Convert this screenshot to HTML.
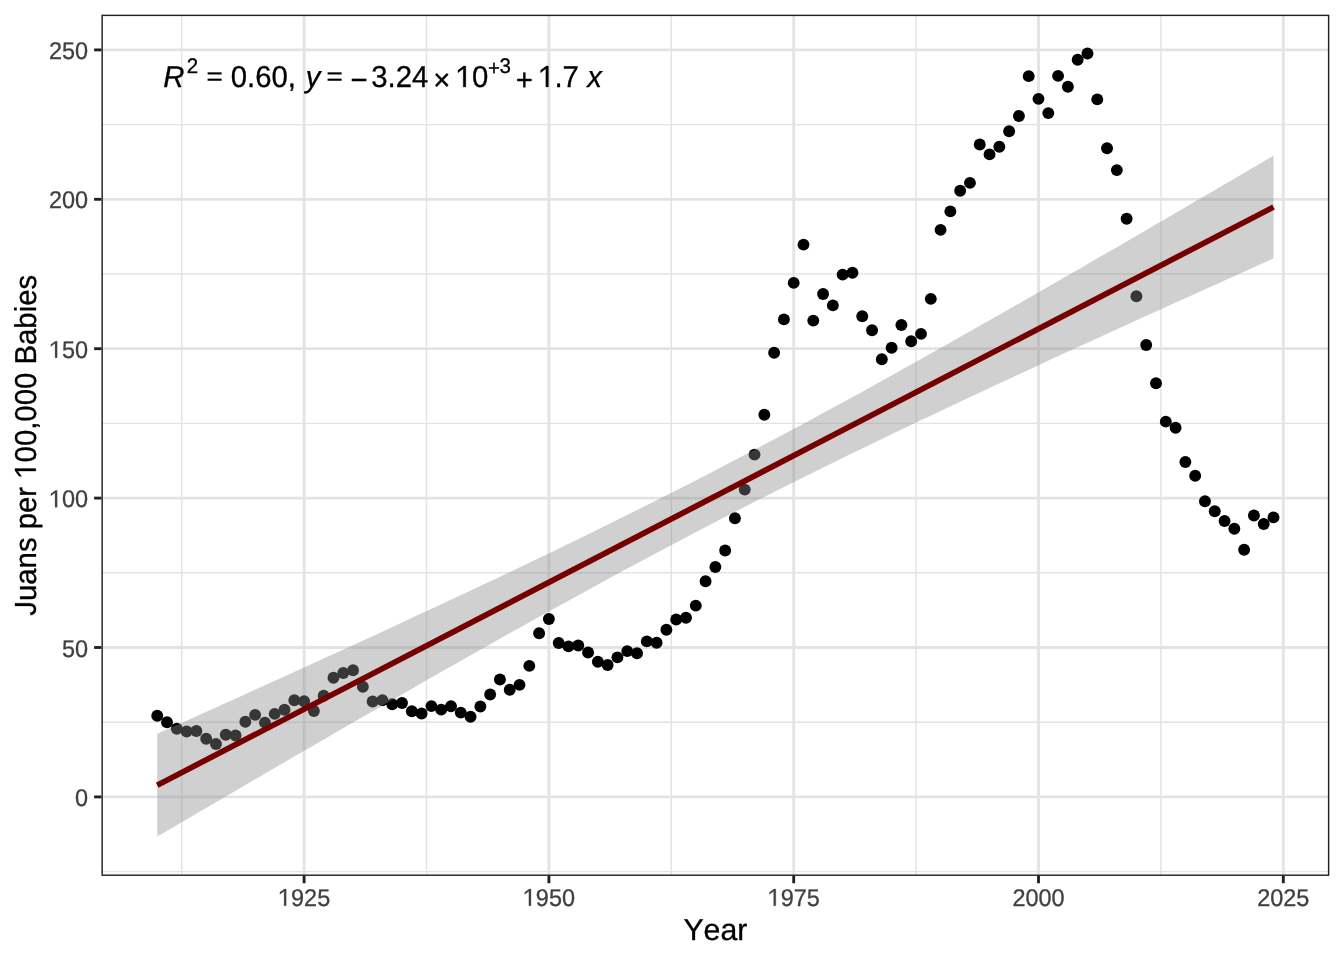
<!DOCTYPE html><html><head><meta charset="utf-8"><style>html,body{margin:0;padding:0;background:#fff;width:1344px;height:960px;overflow:hidden}svg{display:block;will-change:transform}text{font-family:"Liberation Sans",sans-serif;font-kerning:none;white-space:pre}</style></head><body>
<svg width="1344" height="960" viewBox="0 0 1344 960" text-rendering="geometricPrecision">
<rect x="0" y="0" width="1344" height="960" fill="#fff"/>
<defs><clipPath id="pc"><rect x="101.45" y="14.67" width="1227.88" height="861.23"/></clipPath></defs>
<g clip-path="url(#pc)">
<line x1="181.70" y1="14.67" x2="181.70" y2="875.9" stroke="#E3E3E3" stroke-width="1.42"/>
<line x1="426.50" y1="14.67" x2="426.50" y2="875.9" stroke="#E3E3E3" stroke-width="1.42"/>
<line x1="671.30" y1="14.67" x2="671.30" y2="875.9" stroke="#E3E3E3" stroke-width="1.42"/>
<line x1="916.10" y1="14.67" x2="916.10" y2="875.9" stroke="#E3E3E3" stroke-width="1.42"/>
<line x1="1160.90" y1="14.67" x2="1160.90" y2="875.9" stroke="#E3E3E3" stroke-width="1.42"/>
<line x1="101.45" y1="871.60" x2="1329.33" y2="871.60" stroke="#E3E3E3" stroke-width="1.42"/>
<line x1="101.45" y1="722.20" x2="1329.33" y2="722.20" stroke="#E3E3E3" stroke-width="1.42"/>
<line x1="101.45" y1="572.80" x2="1329.33" y2="572.80" stroke="#E3E3E3" stroke-width="1.42"/>
<line x1="101.45" y1="423.40" x2="1329.33" y2="423.40" stroke="#E3E3E3" stroke-width="1.42"/>
<line x1="101.45" y1="274.00" x2="1329.33" y2="274.00" stroke="#E3E3E3" stroke-width="1.42"/>
<line x1="101.45" y1="124.60" x2="1329.33" y2="124.60" stroke="#E3E3E3" stroke-width="1.42"/>
<line x1="304.10" y1="14.67" x2="304.10" y2="875.9" stroke="#E3E3E3" stroke-width="2.84"/>
<line x1="548.90" y1="14.67" x2="548.90" y2="875.9" stroke="#E3E3E3" stroke-width="2.84"/>
<line x1="793.70" y1="14.67" x2="793.70" y2="875.9" stroke="#E3E3E3" stroke-width="2.84"/>
<line x1="1038.50" y1="14.67" x2="1038.50" y2="875.9" stroke="#E3E3E3" stroke-width="2.84"/>
<line x1="1283.30" y1="14.67" x2="1283.30" y2="875.9" stroke="#E3E3E3" stroke-width="2.84"/>
<line x1="101.45" y1="796.90" x2="1329.33" y2="796.90" stroke="#E3E3E3" stroke-width="2.84"/>
<line x1="101.45" y1="647.50" x2="1329.33" y2="647.50" stroke="#E3E3E3" stroke-width="2.84"/>
<line x1="101.45" y1="498.10" x2="1329.33" y2="498.10" stroke="#E3E3E3" stroke-width="2.84"/>
<line x1="101.45" y1="348.70" x2="1329.33" y2="348.70" stroke="#E3E3E3" stroke-width="2.84"/>
<line x1="101.45" y1="199.30" x2="1329.33" y2="199.30" stroke="#E3E3E3" stroke-width="2.84"/>
<line x1="101.45" y1="49.90" x2="1329.33" y2="49.90" stroke="#E3E3E3" stroke-width="2.84"/>
<circle cx="157.22" cy="715.70" r="5.95" fill="#000"/>
<circle cx="167.01" cy="722.30" r="5.95" fill="#000"/>
<circle cx="176.80" cy="728.80" r="5.95" fill="#000"/>
<circle cx="186.60" cy="731.50" r="5.95" fill="#000"/>
<circle cx="196.39" cy="731.00" r="5.95" fill="#000"/>
<circle cx="206.18" cy="738.70" r="5.95" fill="#000"/>
<circle cx="215.97" cy="744.00" r="5.95" fill="#000"/>
<circle cx="225.76" cy="734.80" r="5.95" fill="#000"/>
<circle cx="235.56" cy="735.50" r="5.95" fill="#000"/>
<circle cx="245.35" cy="721.80" r="5.95" fill="#000"/>
<circle cx="255.14" cy="714.90" r="5.95" fill="#000"/>
<circle cx="264.93" cy="722.60" r="5.95" fill="#000"/>
<circle cx="274.72" cy="713.90" r="5.95" fill="#000"/>
<circle cx="284.52" cy="709.70" r="5.95" fill="#000"/>
<circle cx="294.31" cy="700.20" r="5.95" fill="#000"/>
<circle cx="304.10" cy="701.20" r="5.95" fill="#000"/>
<circle cx="313.89" cy="711.00" r="5.95" fill="#000"/>
<circle cx="323.68" cy="695.80" r="5.95" fill="#000"/>
<circle cx="333.48" cy="677.70" r="5.95" fill="#000"/>
<circle cx="343.27" cy="673.00" r="5.95" fill="#000"/>
<circle cx="353.06" cy="670.20" r="5.95" fill="#000"/>
<circle cx="362.85" cy="686.70" r="5.95" fill="#000"/>
<circle cx="372.64" cy="701.50" r="5.95" fill="#000"/>
<circle cx="382.44" cy="700.20" r="5.95" fill="#000"/>
<circle cx="392.23" cy="704.20" r="5.95" fill="#000"/>
<circle cx="402.02" cy="703.00" r="5.95" fill="#000"/>
<circle cx="411.81" cy="711.30" r="5.95" fill="#000"/>
<circle cx="421.60" cy="713.50" r="5.95" fill="#000"/>
<circle cx="431.40" cy="706.10" r="5.95" fill="#000"/>
<circle cx="441.19" cy="709.60" r="5.95" fill="#000"/>
<circle cx="450.98" cy="706.20" r="5.95" fill="#000"/>
<circle cx="460.77" cy="712.60" r="5.95" fill="#000"/>
<circle cx="470.56" cy="716.70" r="5.95" fill="#000"/>
<circle cx="480.36" cy="706.50" r="5.95" fill="#000"/>
<circle cx="490.15" cy="694.50" r="5.95" fill="#000"/>
<circle cx="499.94" cy="679.50" r="5.95" fill="#000"/>
<circle cx="509.73" cy="689.70" r="5.95" fill="#000"/>
<circle cx="519.52" cy="684.90" r="5.95" fill="#000"/>
<circle cx="529.32" cy="665.90" r="5.95" fill="#000"/>
<circle cx="539.11" cy="633.30" r="5.95" fill="#000"/>
<circle cx="548.90" cy="619.00" r="5.95" fill="#000"/>
<circle cx="558.69" cy="643.00" r="5.95" fill="#000"/>
<circle cx="568.48" cy="646.40" r="5.95" fill="#000"/>
<circle cx="578.28" cy="645.50" r="5.95" fill="#000"/>
<circle cx="588.07" cy="652.50" r="5.95" fill="#000"/>
<circle cx="597.86" cy="661.80" r="5.95" fill="#000"/>
<circle cx="607.65" cy="665.00" r="5.95" fill="#000"/>
<circle cx="617.44" cy="657.40" r="5.95" fill="#000"/>
<circle cx="627.24" cy="651.10" r="5.95" fill="#000"/>
<circle cx="637.03" cy="653.30" r="5.95" fill="#000"/>
<circle cx="646.82" cy="641.40" r="5.95" fill="#000"/>
<circle cx="656.61" cy="642.80" r="5.95" fill="#000"/>
<circle cx="666.40" cy="629.70" r="5.95" fill="#000"/>
<circle cx="676.20" cy="619.50" r="5.95" fill="#000"/>
<circle cx="685.99" cy="617.70" r="5.95" fill="#000"/>
<circle cx="695.78" cy="605.60" r="5.95" fill="#000"/>
<circle cx="705.57" cy="581.30" r="5.95" fill="#000"/>
<circle cx="715.36" cy="567.00" r="5.95" fill="#000"/>
<circle cx="725.16" cy="550.50" r="5.95" fill="#000"/>
<circle cx="734.95" cy="518.30" r="5.95" fill="#000"/>
<circle cx="744.74" cy="489.60" r="5.95" fill="#000"/>
<circle cx="754.53" cy="454.60" r="5.95" fill="#000"/>
<circle cx="764.32" cy="414.80" r="5.95" fill="#000"/>
<circle cx="774.12" cy="352.70" r="5.95" fill="#000"/>
<circle cx="783.91" cy="319.40" r="5.95" fill="#000"/>
<circle cx="793.70" cy="282.90" r="5.95" fill="#000"/>
<circle cx="803.49" cy="244.60" r="5.95" fill="#000"/>
<circle cx="813.28" cy="320.60" r="5.95" fill="#000"/>
<circle cx="823.08" cy="294.00" r="5.95" fill="#000"/>
<circle cx="832.87" cy="305.40" r="5.95" fill="#000"/>
<circle cx="842.66" cy="274.60" r="5.95" fill="#000"/>
<circle cx="852.45" cy="272.70" r="5.95" fill="#000"/>
<circle cx="862.24" cy="316.30" r="5.95" fill="#000"/>
<circle cx="872.04" cy="330.20" r="5.95" fill="#000"/>
<circle cx="881.83" cy="359.30" r="5.95" fill="#000"/>
<circle cx="891.62" cy="347.70" r="5.95" fill="#000"/>
<circle cx="901.41" cy="325.00" r="5.95" fill="#000"/>
<circle cx="911.20" cy="341.25" r="5.95" fill="#000"/>
<circle cx="921.00" cy="333.90" r="5.95" fill="#000"/>
<circle cx="930.79" cy="298.90" r="5.95" fill="#000"/>
<circle cx="940.58" cy="229.90" r="5.95" fill="#000"/>
<circle cx="950.37" cy="211.40" r="5.95" fill="#000"/>
<circle cx="960.16" cy="190.70" r="5.95" fill="#000"/>
<circle cx="969.96" cy="182.90" r="5.95" fill="#000"/>
<circle cx="979.75" cy="144.50" r="5.95" fill="#000"/>
<circle cx="989.54" cy="154.40" r="5.95" fill="#000"/>
<circle cx="999.33" cy="146.80" r="5.95" fill="#000"/>
<circle cx="1009.12" cy="131.30" r="5.95" fill="#000"/>
<circle cx="1018.92" cy="116.00" r="5.95" fill="#000"/>
<circle cx="1028.71" cy="76.15" r="5.95" fill="#000"/>
<circle cx="1038.50" cy="98.85" r="5.95" fill="#000"/>
<circle cx="1048.29" cy="113.10" r="5.95" fill="#000"/>
<circle cx="1058.08" cy="75.90" r="5.95" fill="#000"/>
<circle cx="1067.88" cy="86.70" r="5.95" fill="#000"/>
<circle cx="1077.67" cy="59.80" r="5.95" fill="#000"/>
<circle cx="1087.46" cy="53.50" r="5.95" fill="#000"/>
<circle cx="1097.25" cy="99.40" r="5.95" fill="#000"/>
<circle cx="1107.04" cy="148.30" r="5.95" fill="#000"/>
<circle cx="1116.84" cy="170.10" r="5.95" fill="#000"/>
<circle cx="1126.63" cy="218.80" r="5.95" fill="#000"/>
<circle cx="1136.42" cy="296.20" r="5.95" fill="#000"/>
<circle cx="1146.21" cy="345.00" r="5.95" fill="#000"/>
<circle cx="1156.00" cy="383.30" r="5.95" fill="#000"/>
<circle cx="1165.80" cy="421.65" r="5.95" fill="#000"/>
<circle cx="1175.59" cy="427.80" r="5.95" fill="#000"/>
<circle cx="1185.38" cy="462.00" r="5.95" fill="#000"/>
<circle cx="1195.17" cy="475.80" r="5.95" fill="#000"/>
<circle cx="1204.96" cy="501.30" r="5.95" fill="#000"/>
<circle cx="1214.76" cy="511.20" r="5.95" fill="#000"/>
<circle cx="1224.55" cy="521.00" r="5.95" fill="#000"/>
<circle cx="1234.34" cy="528.80" r="5.95" fill="#000"/>
<circle cx="1244.13" cy="549.70" r="5.95" fill="#000"/>
<circle cx="1253.92" cy="515.50" r="5.95" fill="#000"/>
<circle cx="1263.72" cy="524.00" r="5.95" fill="#000"/>
<circle cx="1273.51" cy="517.40" r="5.95" fill="#000"/>
<polygon fill="#898989" fill-opacity="0.4" points="157.22,733.85 171.35,727.50 185.48,721.14 199.61,714.78 213.74,708.41 227.87,702.03 242.00,695.64 256.13,689.24 270.26,682.84 284.39,676.42 298.52,669.99 312.65,663.56 326.78,657.11 340.91,650.64 355.04,644.17 369.17,637.67 383.30,631.17 397.43,624.64 411.56,618.10 425.69,611.54 439.82,604.96 453.95,598.36 468.09,591.73 482.22,585.08 496.35,578.40 510.48,571.70 524.61,564.96 538.74,558.20 552.87,551.40 567.00,544.57 581.13,537.70 595.26,530.79 609.39,523.84 623.52,516.85 637.65,509.81 651.78,502.73 665.91,495.60 680.04,488.43 694.17,481.21 708.30,473.94 722.43,466.62 736.56,459.25 750.69,451.84 764.82,444.37 778.95,436.86 793.08,429.31 807.21,421.70 821.34,414.06 835.47,406.37 849.60,398.64 863.73,390.88 877.86,383.07 891.99,375.23 906.12,367.36 920.25,359.46 934.38,351.53 948.51,343.57 962.64,335.58 976.77,327.57 990.90,319.54 1005.03,311.48 1019.16,303.40 1033.29,295.31 1047.42,287.20 1061.55,279.07 1075.68,270.92 1089.82,262.76 1103.95,254.59 1118.08,246.40 1132.21,238.20 1146.34,229.99 1160.47,221.77 1174.60,213.54 1188.73,205.30 1202.86,197.05 1216.99,188.79 1231.12,180.52 1245.25,172.25 1259.38,163.97 1273.51,155.68 1273.51,258.44 1259.38,264.79 1245.25,271.15 1231.12,277.51 1216.99,283.88 1202.86,290.26 1188.73,296.65 1174.60,303.05 1160.47,309.45 1146.34,315.87 1132.21,322.29 1118.08,328.73 1103.95,335.18 1089.82,341.65 1075.68,348.12 1061.55,354.61 1047.42,361.12 1033.29,367.65 1019.16,374.19 1005.03,380.75 990.90,387.33 976.77,393.93 962.64,400.56 948.51,407.21 934.38,413.89 920.25,420.59 906.12,427.32 891.99,434.09 877.86,440.89 863.73,447.72 849.60,454.59 835.47,461.50 821.34,468.45 807.21,475.44 793.08,482.48 778.95,489.56 764.82,496.68 750.69,503.86 736.56,511.08 722.43,518.35 708.30,525.67 694.17,533.03 680.04,540.45 665.91,547.91 651.78,555.42 637.65,562.98 623.52,570.58 609.39,578.23 595.26,585.92 581.13,593.65 567.00,601.41 552.87,609.22 538.74,617.05 524.61,624.93 510.48,632.83 496.35,640.76 482.22,648.72 468.09,656.71 453.95,664.72 439.82,672.75 425.69,680.81 411.56,688.88 397.43,696.98 383.30,705.09 369.17,713.22 355.04,721.37 340.91,729.53 326.78,737.70 312.65,745.89 298.52,754.09 284.39,762.30 270.26,770.52 256.13,778.75 242.00,786.99 227.87,795.24 213.74,803.50 199.61,811.77 185.48,820.04 171.35,828.32 157.22,836.61"/>
<line x1="157.22" y1="785.23" x2="1273.51" y2="207.06" stroke="#760000" stroke-width="5.69"/>
</g>
<rect x="102.16" y="15.379999999999999" width="1226.46" height="859.81" fill="none" stroke="#1F1F1F" stroke-width="1.42"/>
<line x1="94.12" y1="796.90" x2="101.45" y2="796.90" stroke="#1F1F1F" stroke-width="2.84"/>
<g transform="translate(0 806.00) scale(1 1.03) translate(0 -806.00)"><text x="75.05" y="806.00" font-size="23.47" fill="#404040" stroke="#404040" stroke-width="0.3">0</text></g>
<line x1="94.12" y1="647.50" x2="101.45" y2="647.50" stroke="#1F1F1F" stroke-width="2.84"/>
<g transform="translate(0 656.60) scale(1 1.03) translate(0 -656.60)"><text x="61.99" y="656.60" font-size="23.47" fill="#404040" stroke="#404040" stroke-width="0.3">50</text></g>
<line x1="94.12" y1="498.10" x2="101.45" y2="498.10" stroke="#1F1F1F" stroke-width="2.84"/>
<g transform="translate(0 507.20) scale(1 1.03) translate(0 -507.20)"><path transform="translate(48.94 507.20) scale(0.011460 -0.011460)" d="M535 0V1230L170 960V1130L560 1409H715V0Z" fill="#404040" stroke="#404040" stroke-width="0.3" vector-effect="non-scaling-stroke"/><text x="61.99" y="507.20" font-size="23.47" fill="#404040" stroke="#404040" stroke-width="0.3">00</text></g>
<line x1="94.12" y1="348.70" x2="101.45" y2="348.70" stroke="#1F1F1F" stroke-width="2.84"/>
<g transform="translate(0 357.80) scale(1 1.03) translate(0 -357.80)"><path transform="translate(48.94 357.80) scale(0.011460 -0.011460)" d="M535 0V1230L170 960V1130L560 1409H715V0Z" fill="#404040" stroke="#404040" stroke-width="0.3" vector-effect="non-scaling-stroke"/><text x="61.99" y="357.80" font-size="23.47" fill="#404040" stroke="#404040" stroke-width="0.3">50</text></g>
<line x1="94.12" y1="199.30" x2="101.45" y2="199.30" stroke="#1F1F1F" stroke-width="2.84"/>
<g transform="translate(0 208.40) scale(1 1.03) translate(0 -208.40)"><text x="48.94" y="208.40" font-size="23.47" fill="#404040" stroke="#404040" stroke-width="0.3">200</text></g>
<line x1="94.12" y1="49.90" x2="101.45" y2="49.90" stroke="#1F1F1F" stroke-width="2.84"/>
<g transform="translate(0 59.00) scale(1 1.03) translate(0 -59.00)"><text x="48.94" y="59.00" font-size="23.47" fill="#404040" stroke="#404040" stroke-width="0.3">250</text></g>
<line x1="304.10" y1="875.9" x2="304.10" y2="883.23" stroke="#1F1F1F" stroke-width="2.84"/>
<g transform="translate(0 905.70) scale(1 1.03) translate(0 -905.70)"><path transform="translate(277.99 905.70) scale(0.011460 -0.011460)" d="M535 0V1230L170 960V1130L560 1409H715V0Z" fill="#404040" stroke="#404040" stroke-width="0.3" vector-effect="non-scaling-stroke"/><text x="291.05" y="905.70" font-size="23.47" fill="#404040" stroke="#404040" stroke-width="0.3">925</text></g>
<line x1="548.90" y1="875.9" x2="548.90" y2="883.23" stroke="#1F1F1F" stroke-width="2.84"/>
<g transform="translate(0 905.70) scale(1 1.03) translate(0 -905.70)"><path transform="translate(522.79 905.70) scale(0.011460 -0.011460)" d="M535 0V1230L170 960V1130L560 1409H715V0Z" fill="#404040" stroke="#404040" stroke-width="0.3" vector-effect="non-scaling-stroke"/><text x="535.85" y="905.70" font-size="23.47" fill="#404040" stroke="#404040" stroke-width="0.3">950</text></g>
<line x1="793.70" y1="875.9" x2="793.70" y2="883.23" stroke="#1F1F1F" stroke-width="2.84"/>
<g transform="translate(0 905.70) scale(1 1.03) translate(0 -905.70)"><path transform="translate(767.59 905.70) scale(0.011460 -0.011460)" d="M535 0V1230L170 960V1130L560 1409H715V0Z" fill="#404040" stroke="#404040" stroke-width="0.3" vector-effect="non-scaling-stroke"/><text x="780.65" y="905.70" font-size="23.47" fill="#404040" stroke="#404040" stroke-width="0.3">975</text></g>
<line x1="1038.50" y1="875.9" x2="1038.50" y2="883.23" stroke="#1F1F1F" stroke-width="2.84"/>
<g transform="translate(0 905.70) scale(1 1.03) translate(0 -905.70)"><text x="1012.39" y="905.70" font-size="23.47" fill="#404040" stroke="#404040" stroke-width="0.3">2000</text></g>
<line x1="1283.30" y1="875.9" x2="1283.30" y2="883.23" stroke="#1F1F1F" stroke-width="2.84"/>
<g transform="translate(0 905.70) scale(1 1.03) translate(0 -905.70)"><text x="1257.19" y="905.70" font-size="23.47" fill="#404040" stroke="#404040" stroke-width="0.3">2025</text></g>
<text x="683.39" y="939.90" font-size="30.3" fill="#000" stroke="#000" stroke-width="0.3">Year</text>
<g transform="translate(35.8 445.28) rotate(-90)"><g transform="translate(0 0.00) scale(1 1.03) translate(0 0.00)"><path transform="translate(-170.40 0.00) scale(0.014321 -0.014321)" d="M457 -20Q99 -20 32 350L219 381Q237 265 300 200Q363 135 458 135Q562 135 622 206.5Q682 278 682 416V1409H872V420Q872 215 761 97.5Q650 -20 457 -20Z" fill="#000" stroke="#000" stroke-width="0.3" vector-effect="non-scaling-stroke"/><text x="-155.74" y="0.00" font-size="29.33" fill="#000" stroke="#000" stroke-width="0.3">uans per </text><path transform="translate(-33.45 0.00) scale(0.014321 -0.014321)" d="M535 0V1230L170 960V1130L560 1409H715V0Z" fill="#000" stroke="#000" stroke-width="0.3" vector-effect="non-scaling-stroke"/><text x="-17.14" y="0.00" font-size="29.33" fill="#000" stroke="#000" stroke-width="0.3">00,000 Babies</text></g></g>
<g transform="translate(0 86.9) scale(1 1.03) translate(0 -86.9)">
<text x="163.15" y="86.90" font-size="29.33" fill="#000" stroke="#000" stroke-width="0.3" font-style="italic">R</text>
<text x="186.87" y="73.00" font-size="20.53" fill="#000" stroke="#000" stroke-width="0.3">2</text>
<text x="230.75" y="86.90" font-size="29.33" fill="#000" stroke="#000" stroke-width="0.3">0.60,</text>
<text x="305.66" y="86.90" font-size="29.33" fill="#000" stroke="#000" stroke-width="0.3" font-style="italic">y</text>
<text x="350.45" y="89.70" font-size="29.33" fill="#000" stroke="#000" stroke-width="0.3">−</text>
<text x="371.28" y="86.90" font-size="29.33" fill="#000" stroke="#000" stroke-width="0.3">3.24</text>
<text x="433.17" y="89.70" font-size="29.33" fill="#000" stroke="#000" stroke-width="0.3">×</text>
<path transform="translate(455.57 86.90) scale(0.014321 -0.014321)" d="M535 0V1230L170 960V1130L560 1409H715V0Z" fill="#000" stroke="#000" stroke-width="0.3" vector-effect="non-scaling-stroke"/><text x="471.88" y="86.90" font-size="29.33" fill="#000" stroke="#000" stroke-width="0.3">0</text>
<text x="488.10" y="74.90" font-size="20.53" fill="#000" stroke="#000" stroke-width="0.3">+</text>
<text x="499.62" y="73.00" font-size="20.53" fill="#000" stroke="#000" stroke-width="0.3">3</text>
<text x="515.77" y="89.70" font-size="29.33" fill="#000" stroke="#000" stroke-width="0.3">+</text>
<path transform="translate(538.17 86.90) scale(0.014321 -0.014321)" d="M535 0V1230L170 960V1130L560 1409H715V0Z" fill="#000" stroke="#000" stroke-width="0.3" vector-effect="non-scaling-stroke"/><text x="554.48" y="86.90" font-size="29.33" fill="#000" stroke="#000" stroke-width="0.3">.7</text>
<text x="587.17" y="86.90" font-size="29.33" fill="#000" stroke="#000" stroke-width="0.3" font-style="italic">x</text>
</g>
<rect x="207.6" y="72.35" width="14" height="2.1" fill="#000"/><rect x="207.6" y="78.65" width="14" height="2.1" fill="#000"/>
<rect x="327.6" y="72.35" width="14" height="2.1" fill="#000"/><rect x="327.6" y="78.65" width="14" height="2.1" fill="#000"/>
</svg></body></html>
